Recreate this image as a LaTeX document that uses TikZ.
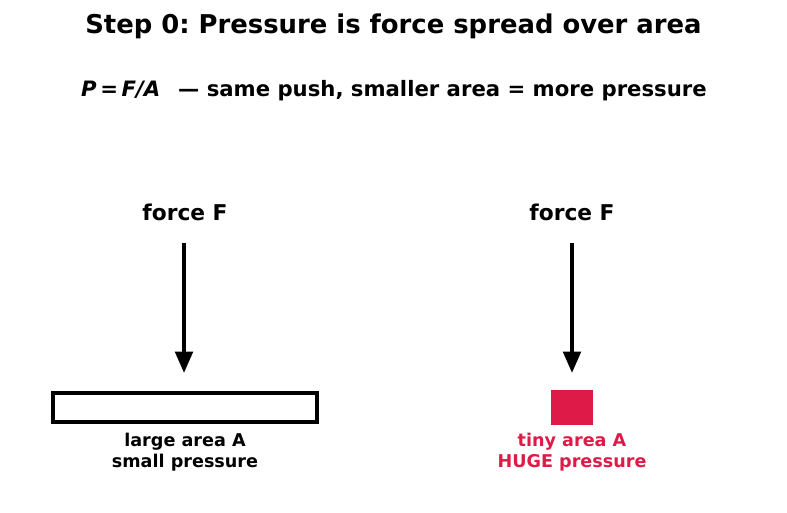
\documentclass[tikz,border=0pt]{standalone}
\usepackage{fontspec}
\setmainfont{DejaVu Sans}
\usetikzlibrary{arrows.meta,positioning}
\definecolor{hugered}{RGB}{222,27,72}
\frenchspacing

\begin{document}
\begin{tikzpicture}[
    x=0.75pt, y=-0.75pt,
    font=\bfseries,
    >={Stealth[length=16pt,width=13pt,inset=0pt]},
    head/.style={font=\bfseries\fontsize{19.4}{22}\selectfont},
    sub/.style={font=\bfseries\fontsize{15.9}{18}\selectfont},
    force/.style={font=\bfseries\fontsize{16.3}{18}\selectfont},
    caption/.style={font=\bfseries\fontsize{13.2}{15.8}\selectfont, align=center},
    push/.style={->, line width=3pt}
]
\useasboundingbox (0,0) rectangle (787,512);

% headings
\node[head] (title) at (393.5,26) {Step 0: Pressure is force spread over area};
\node[sub] (formula) at (394,91) {\textit{P\,=\,F/A}\enspace\ --- same push, smaller area = more pressure};

% left: wide plate
\node[force] (forceL) at (185,212) {force F};
\coordinate (topL) at (184,243);
\coordinate (tipL) at (184,373);
\draw[push] (topL) -- (tipL);
\node[draw, line width=3pt, minimum width=264pt*0.75, minimum height=29pt*0.75, inner sep=0pt] (plate) at (185,407.5) {};
\node[caption] (capL) at (185,452) {large area A\\small pressure};

% right: tiny square
\node[force] (forceR) at (572,212) {force F};
\coordinate (topR) at (572,243);
\coordinate (tipR) at (572,373);
\draw[push] (topR) -- (tipR);
\node[fill=hugered, minimum width=42pt*0.75, minimum height=35pt*0.75, inner sep=0pt] (square) at (572,407.5) {};
\node[caption, text=hugered] (capR) at (572,452) {tiny area A\\HUGE pressure};

\end{tikzpicture}
\end{document}
